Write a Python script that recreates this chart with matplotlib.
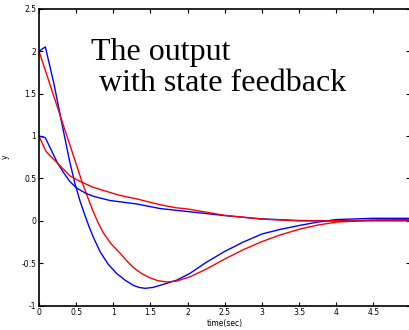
import matplotlib
matplotlib.use('Agg')
import matplotlib.pyplot as plt

# time samples (sec) and the four responses
t_a = [0, 0.085, 0.2, 0.3, 0.41, 0.485, 0.55, 0.6, 0.67, 0.73, 0.82, 0.93, 1.045, 1.16, 1.27, 1.35, 1.43,
       1.53, 1.63, 1.85, 2.03, 2.25, 2.5, 2.75, 3.0, 3.25, 3.5, 3.75, 4.0, 4.5, 5.0]
blue_a = [2.0, 2.05, 1.62, 1.18, 0.71, 0.435, 0.24, 0.11, -0.06, -0.19, -0.36, -0.51, -0.62, -0.70, -0.76,
          -0.785, -0.795, -0.785, -0.76, -0.70, -0.62, -0.49, -0.36, -0.25, -0.155, -0.1, -0.055, -0.015,
          0.015, 0.03, 0.03]

t_b = [0, 0.3, 0.485, 0.575, 0.65, 0.73, 0.8, 0.865, 0.97, 1.09, 1.18, 1.27, 1.38, 1.49, 1.6, 1.72, 1.85,
       2.03, 2.25, 2.5, 2.75, 3.0, 3.25, 3.5, 3.75, 4.0, 4.5, 5.0]
red_a = [2.0, 1.2, 0.71, 0.47, 0.29, 0.11, -0.03, -0.14, -0.27, -0.38, -0.47, -0.55, -0.62, -0.67, -0.705,
         -0.72, -0.71, -0.66, -0.57, -0.45, -0.34, -0.245, -0.165, -0.1, -0.05, -0.015, 0.01, 0.015]

t_c = [0, 0.085, 0.15, 0.25, 0.33, 0.41, 0.5, 0.64, 0.75, 0.955, 1.31, 1.63, 2.0, 2.5, 3.0, 3.5, 4.0, 4.5, 5.0]
blue_b = [1.0, 0.98, 0.86, 0.68, 0.57, 0.47, 0.39, 0.32, 0.285, 0.24, 0.2, 0.145, 0.11, 0.062, 0.023,
          0.004, 0.0, 0.005, 0.005]

t_d = [0, 0.05, 0.094, 0.18, 0.25, 0.417, 0.54, 0.73, 0.86, 1.09, 1.31, 1.63, 1.84, 2.0, 2.5, 3.0, 3.5, 4.0,
       4.5, 5.0]
red_b = [1.0, 0.9, 0.82, 0.74, 0.68, 0.53, 0.47, 0.395, 0.36, 0.3, 0.26, 0.19, 0.155, 0.14, 0.065, 0.02,
         0.0, 0.0, 0.0, 0.0]

xticks = [0, 0.5, 1, 1.5, 2, 2.5, 3, 3.5, 4, 4.5]
yticks = [-1, -0.5, 0, 0.5, 1, 1.5, 2, 2.5]

fig = plt.figure(figsize=(4.09, 3.30), dpi=100)
ax = fig.add_axes([0.0954, 0.0736, 0.908, 0.900])

ax.plot(t_a, blue_a, color='blue', lw=1.0)
ax.plot(t_b, red_a, color='red', lw=1.0)
ax.plot(t_c, blue_b, color='blue', lw=1.0)
ax.plot(t_d, red_b, color='red', lw=1.0)

ax.set_xlim(0, 5)
ax.set_ylim(-1, 2.5)
ax.set_xticks(xticks)
ax.set_yticks(yticks)
ax.set_xticklabels([('%g' % v) for v in xticks])
ax.set_yticklabels([('%g' % v) for v in yticks])
ax.tick_params(direction='in', length=3, width=0.8, labelsize=5.5, top=True, right=True, pad=2)
for s in ax.spines.values():
    s.set_linewidth(1.2)

ax.set_xlabel('time(sec)', fontsize=5.5, labelpad=1)
ax.set_ylabel('y', fontsize=5.5, labelpad=8)

fig.text(0.222, 0.886, 'The output\n with state feedback', fontsize=23,
         family='Liberation Serif', ha='left', va='top', linespacing=1.12)

fig.savefig('out.png', dpi=100)
